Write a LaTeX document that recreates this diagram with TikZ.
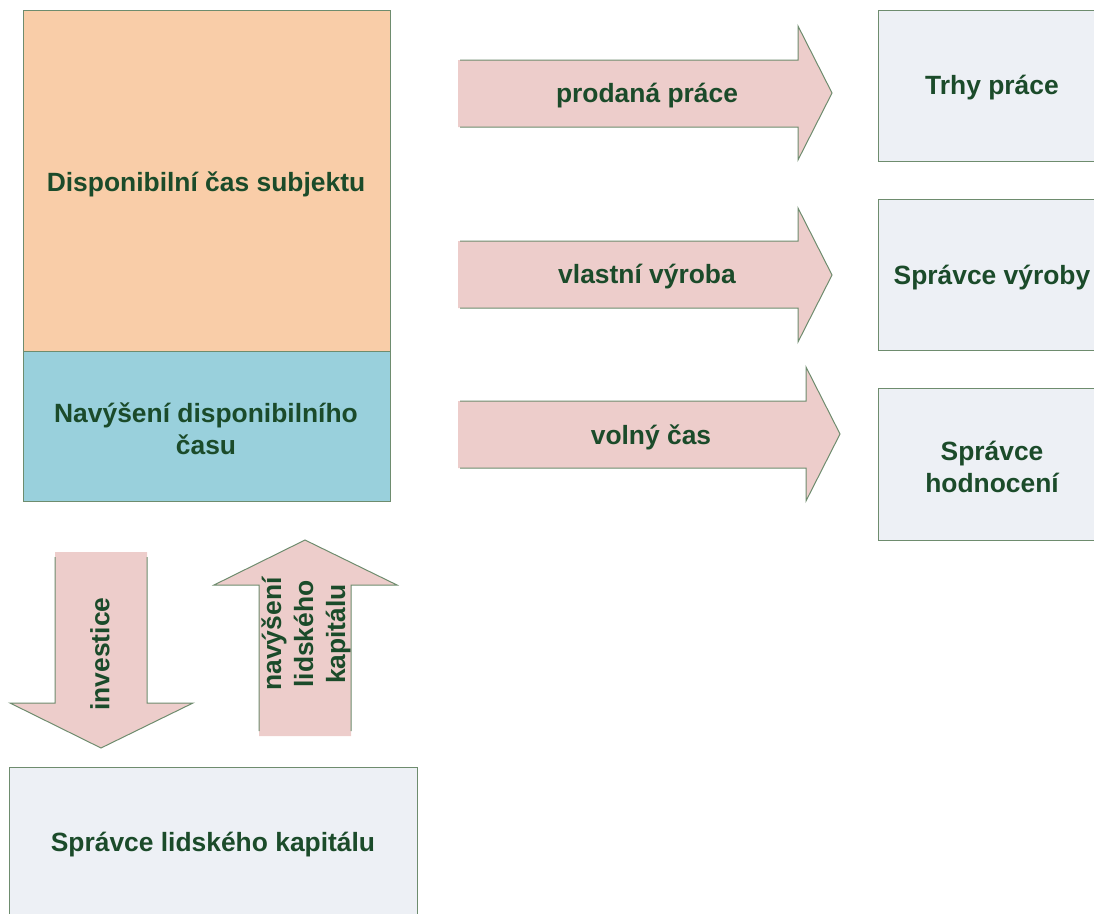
\documentclass[tikz,border=0pt]{standalone}
\usepackage{fontspec}
\setmainfont{Liberation Sans}
\definecolor{txtgreen}{HTML}{1B4B2A}
\definecolor{edgegreen}{HTML}{6E8C6E}
\definecolor{peach}{HTML}{F9CDA8}
\definecolor{skyblue}{HTML}{99D0DC}
\definecolor{paleblue}{HTML}{EDF0F5}
\definecolor{rosefill}{HTML}{EDCDCB}
\tikzset{
  lbl/.style={font=\bfseries\fontsize{26.4}{32}\selectfont, text=txtgreen, align=center, inner sep=0pt},
  boxfill/.style={fill=#1, draw=edgegreen, line width=1pt},
  arrowfill/.style={fill=rosefill},
  arrowedge/.style={draw=edgegreen, line width=1pt, line join=miter},
}
\begin{document}
\begin{tikzpicture}[x=1pt,y=-1pt]
\useasboundingbox (0,0) rectangle (1094,913);
\clip (0,0) rectangle (1094,913);

% time budget of the subject
\draw[boxfill=peach] (23,10) rectangle (390,351);
\draw[boxfill=skyblue] (23,351) rectangle (390,501);
\node[lbl] (disp) at (206,184) {Disponibilní čas subjektu};
\node[lbl] (navys) at (206,429) {Navýšení disponibilního\\času};

% destination boxes on the right
\draw[boxfill=paleblue] (878,10) rectangle (1110,161);
\draw[boxfill=paleblue] (878,199) rectangle (1110,350);
\draw[boxfill=paleblue] (878,388) rectangle (1110,540);
\node[lbl] (trhy) at (992,88) {Trhy práce};
\node[lbl] (vyroba) at (992,278) {Správce výroby};
\node[lbl] (hodn) at (992,467) {Správce\\hodnocení};

% human capital box
\draw[boxfill=paleblue] (9,767) rectangle (417,930);
\node[lbl] (kapital) at (213,845) {Správce lidského kapitálu};

% right-pointing block arrows
\foreach \yt/\tip/\hb in {60/93/798, 241/275/798, 401/434/806}{
  \pgfmathsetmacro{\yb}{\yt+67}
  \pgfmathsetmacro{\ht}{\tip-67}
  \pgfmathsetmacro{\hbm}{\tip+67}
  \pgfmathsetmacro{\tx}{\hb+34}
  \fill[arrowfill] (458,\yt) -- (\hb,\yt) -- (\hb,\ht) -- (\tx,\tip) -- (\hb,\hbm) -- (\hb,\yb) -- (458,\yb) -- cycle;
  \draw[arrowedge] (460,\yt) -- (\hb,\yt) -- (\hb,\ht) -- (\tx,\tip) -- (\hb,\hbm) -- (\hb,\yb) -- (460,\yb);
}
\node[lbl] (prodana) at (647,96) {prodaná práce};
\node[lbl] (vlastni) at (647,277) {vlastní výroba};
\node[lbl] (volny) at (651,437) {volný čas};

% downward arrow: investment
\fill[arrowfill] (55,552) -- (55,703) -- (10,703) -- (101,748) -- (193,703) -- (147,703) -- (147,552) -- cycle;
\draw[arrowedge] (55,557) -- (55,703) -- (10,703) -- (101,748) -- (193,703) -- (147,703) -- (147,557);
\node[lbl, rotate=90] (invest) at (100,654) {investice};

% upward arrow: growth of human capital
\fill[arrowfill] (259,736) -- (259,585) -- (214,585) -- (305,540) -- (397,585) -- (351,585) -- (351,736) -- cycle;
\draw[arrowedge] (259,731) -- (259,585) -- (214,585) -- (305,540) -- (397,585) -- (351,585) -- (351,731);
\node[lbl, rotate=90] (rust) at (306,634) {navýšení\\lidského\\kapitálu};
\end{tikzpicture}
\end{document}
